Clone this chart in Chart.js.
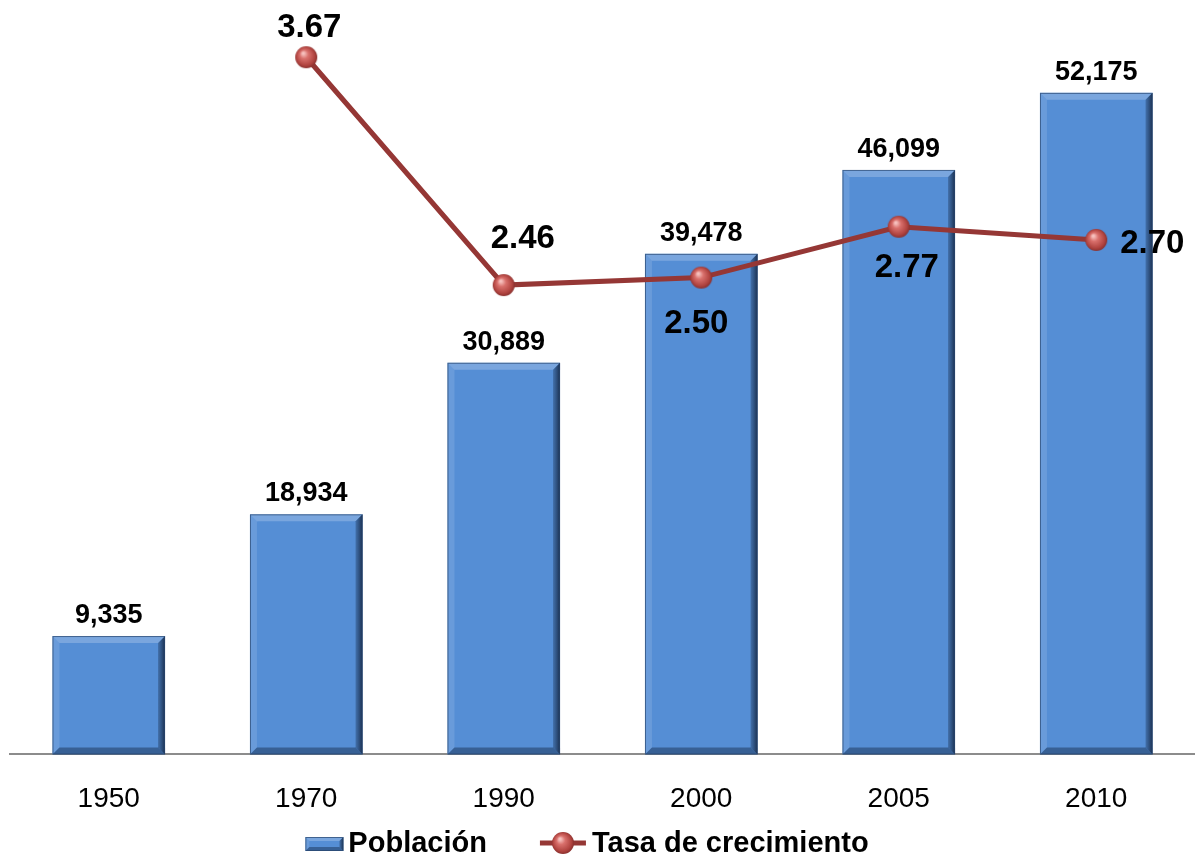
<!DOCTYPE html>
<html>
<head>
<meta charset="utf-8">
<script src="https://cdn.jsdelivr.net/npm/chart.js@4"></script>
<style>
  body { margin: 0; background: #ffffff; }
</style>
</head>
<body>
<canvas id="poblacion" width="1195" height="857"></canvas>
<script>
const anios = ["1950", "1970", "1990", "2000", "2005", "2010"];
const poblacion = [9335, 18934, 30889, 39478, 46099, 52175];
const tasa_crecimiento = [null, 3.67, 2.46, 2.5, 2.77, 2.7];

const FUENTE = "'Liberation Sans', Arial, sans-serif";
// desplazamiento de las etiquetas de la tasa respecto al punto
const tasa_dx = [0, 3, 19, -5, 8, 56];
const tasa_dy = [0, -20, -37, 55, 50, 13];

// bolita roja para los puntos de la linea
function crearBolita(r) {
  const c = document.createElement("canvas");
  c.width = r * 2 + 2;
  c.height = r * 2 + 2;
  const g = c.getContext("2d");
  const grad = g.createRadialGradient(r - 2, r - 3, 1, r + 1, r + 1, r + 1);
  grad.addColorStop(0, "#f6c0bd");
  grad.addColorStop(0.3, "#d9706c");
  grad.addColorStop(0.75, "#b0433f");
  grad.addColorStop(1, "#7c2a28");
  g.fillStyle = grad;
  g.beginPath();
  g.arc(r + 1, r + 1, r, 0, Math.PI * 2);
  g.fill();
  return c;
}
const bolita = crearBolita(11);

function biselBarra(ctx, left, top, right, bottom, e) {
  ctx.save();
  // arriba
  ctx.fillStyle = "rgba(255,255,255,0.22)";
  ctx.beginPath();
  ctx.moveTo(left, top); ctx.lineTo(right, top);
  ctx.lineTo(right - e, top + e); ctx.lineTo(left + e, top + e);
  ctx.closePath(); ctx.fill();
  // izquierda
  ctx.fillStyle = "rgba(255,255,255,0.12)";
  ctx.beginPath();
  ctx.moveTo(left, top); ctx.lineTo(left + e, top + e);
  ctx.lineTo(left + e, bottom - e); ctx.lineTo(left, bottom);
  ctx.closePath(); ctx.fill();
  // derecha
  const gr = ctx.createLinearGradient(right - e, 0, right, 0);
  gr.addColorStop(0, "rgba(30,55,90,0.35)");
  gr.addColorStop(1, "rgba(15,30,55,0.85)");
  ctx.fillStyle = gr;
  ctx.beginPath();
  ctx.moveTo(right, top); ctx.lineTo(right, bottom);
  ctx.lineTo(right - e, bottom - e); ctx.lineTo(right - e, top + e);
  ctx.closePath(); ctx.fill();
  // abajo
  ctx.fillStyle = "rgba(20,40,70,0.45)";
  ctx.beginPath();
  ctx.moveTo(left, bottom); ctx.lineTo(right, bottom);
  ctx.lineTo(right - e, bottom - e); ctx.lineTo(left + e, bottom - e);
  ctx.closePath(); ctx.fill();
  // filo
  ctx.strokeStyle = "rgba(40,70,110,0.7)";
  ctx.lineWidth = 1;
  ctx.strokeRect(left + 0.5, top + 0.5, right - left - 1, bottom - top - 1);
  ctx.restore();
}

const plugin_etiquetas = {
  id: "etiquetas",
  afterDatasetDraw: (chart, args) => {
    if (args.meta.type !== "bar") return;
    const ctx = chart.ctx;
    args.meta.data.forEach((bar) => {
      const w = bar.width;
      biselBarra(ctx, bar.x - w / 2, bar.y, bar.x + w / 2, bar.base, 7);
    });
  },
  afterDraw: (chart) => {
    const ctx = chart.ctx;
    ctx.save();
    ctx.fillStyle = "#000";
    ctx.textAlign = "center";
    ctx.textBaseline = "alphabetic";
    // etiquetas de las barras
    ctx.font = "bold 27px " + FUENTE;
    const metaBarras = chart.getDatasetMeta(1);
    metaBarras.data.forEach((bar, i) => {
      ctx.fillText(poblacion[i].toLocaleString("en-US"), bar.x, bar.y - 13);
    });
    // etiquetas de la tasa
    ctx.font = "bold 33px " + FUENTE;
    const metaLinea = chart.getDatasetMeta(0);
    metaLinea.data.forEach((pt, i) => {
      if (tasa_crecimiento[i] == null) return;
      ctx.fillText(tasa_crecimiento[i].toFixed(2), pt.x + tasa_dx[i], pt.y + tasa_dy[i]);
    });

    // leyenda
    ctx.font = "bold 29px " + FUENTE;
    ctx.textAlign = "left";
    const t1 = chart.data.datasets[1].label;
    const t2 = chart.data.datasets[0].label;
    const w1 = ctx.measureText(t1).width;
    const w2 = ctx.measureText(t2).width;
    const total = 38 + 5 + w1 + 53 + 46 + 6 + w2;
    let x = 587 - total / 2;
    const yText = 852;
    // icono barra
    ctx.fillStyle = "#558ed5";
    ctx.fillRect(x, 837, 38, 14);
    biselBarra(ctx, x, 837, x + 38, 851, 4);
    x += 38 + 5;
    ctx.fillStyle = "#000";
    ctx.fillText(t1, x, yText);
    x += w1 + 53;
    // icono linea
    ctx.strokeStyle = "#953735";
    ctx.lineWidth = 5;
    ctx.beginPath();
    ctx.moveTo(x, 843);
    ctx.lineTo(x + 46, 843);
    ctx.stroke();
    ctx.drawImage(bolita, x + 23 - bolita.width / 2, 843 - bolita.height / 2);
    x += 46 + 6;
    ctx.fillStyle = "#000";
    ctx.fillText(t2, x, yText);
    ctx.restore();
  },
};

const ctx = document.getElementById("poblacion").getContext("2d");
const chart_poblacion = new Chart(ctx, {
  type: "bar",
  data: {
    labels: anios,
    datasets: [
      {
        type: "line",
        label: "Tasa de crecimiento",
        data: tasa_crecimiento,
        yAxisID: "y2",
        borderColor: "#953735",
        borderWidth: 5,
        pointStyle: bolita,
        pointRadius: 11,
        spanGaps: false,
        tension: 0,
        clip: false,
        order: 0,
      },
      {
        type: "bar",
        label: "Población",
        data: poblacion,
        yAxisID: "y",
        backgroundColor: "#558ed5",
        borderWidth: 0,
        categoryPercentage: 1,
        barPercentage: 0.57,
        order: 1,
      },
    ],
  },
  options: {
    responsive: false,
    animation: false,
    layout: {
      autoPadding: false,
      padding: { left: 10, right: 0, top: 0, bottom: 13 },
    },
    plugins: {
      legend: { display: false },
      tooltip: { enabled: false },
    },
    scales: {
      x: {
        offset: true,
        grid: { display: false, drawTicks: false },
        border: { display: true, color: "#8c8c8c", width: 2 },
        ticks: {
          color: "#000",
          padding: 28,
          font: { family: FUENTE, size: 28 },
        },
      },
      y: {
        display: false,
        min: 0,
        max: 59500,
      },
      y2: {
        display: false,
        min: -0.032,
        max: 3.974,
      },
    },
  },
  plugins: [plugin_etiquetas],
});
</script>
</body>
</html>
